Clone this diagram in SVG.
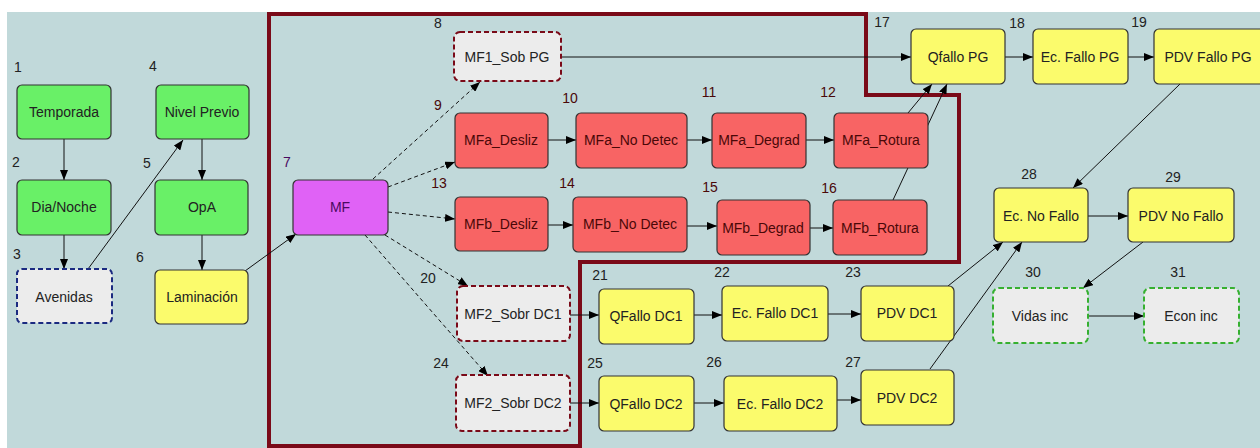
<svg xmlns="http://www.w3.org/2000/svg" width="1260" height="448" viewBox="0 0 1260 448">
<defs>
<marker id="ah" viewBox="0 0 10 8" refX="10" refY="4" markerWidth="10" markerHeight="8" markerUnits="userSpaceOnUse" orient="auto">
<path d="M0,0 L10,4 L0,8 Z" fill="#000"/>
</marker>
<style>
.n rect{stroke:#333;stroke-width:1.2}
.g rect{fill:#69f067}
.y rect{fill:#fbfb6c}
.r rect{fill:#f86464}
.m rect{fill:#e062f6}
.dg rect{fill:#ececec;stroke:#7a0a18;stroke-width:2;stroke-dasharray:5 3}
.db rect{fill:#ececec;stroke:#1a2a80;stroke-width:2;stroke-dasharray:5 3}
.dgr rect{fill:#ececec;stroke:#36b030;stroke-width:2;stroke-dasharray:5 3}
text{font-family:"Liberation Sans",Arial,sans-serif}
.n text{font-size:14px;fill:#222;text-anchor:middle}
.r text{fill:#4a0808}
.m text{fill:#4a0a60}
.num{font-size:13px;fill:#222}
.c line{stroke:#111;stroke-width:1;marker-end:url(#ah)}
.c .d{stroke-dasharray:4 3}
</style>
</defs>
<rect x="0" y="0" width="1260" height="448" fill="#ffffff"/>
<rect x="7" y="12" width="1253" height="436" fill="#c1d9da"/>
<path d="M269,14 L866,14 L866,95 L959,95 L959,262 L580,262 L580,446 L269,446 Z" fill="none" stroke="#7a0a18" stroke-width="4"/>

<g class="c">
<line x1="64" y1="139" x2="64" y2="180"/>
<line x1="64" y1="235" x2="64" y2="269"/>
<line x1="88" y1="269" x2="183" y2="140"/>
<line x1="202" y1="139" x2="202" y2="180"/>
<line x1="202" y1="235" x2="202" y2="270"/>
<line x1="245" y1="271" x2="296" y2="234"/>
<line class="d" x1="373" y1="179" x2="480" y2="82"/>
<line class="d" x1="388" y1="187" x2="455" y2="162"/>
<line class="d" x1="388" y1="212" x2="455" y2="219"/>
<line class="d" x1="385" y1="235" x2="468" y2="286"/>
<line class="d" x1="365" y1="235" x2="488" y2="376"/>
<line x1="561" y1="57" x2="911" y2="57"/>
<line x1="548" y1="140" x2="576" y2="140"/>
<line x1="687" y1="140" x2="712" y2="140"/>
<line x1="806" y1="140" x2="834" y2="140"/>
<line x1="908" y1="113" x2="932" y2="84"/>
<line x1="893" y1="200" x2="947" y2="84"/>
<line x1="548" y1="225" x2="573" y2="225"/>
<line x1="687" y1="226" x2="717" y2="226"/>
<line x1="810" y1="228" x2="833" y2="228"/>
<line x1="1005" y1="57" x2="1033" y2="57"/>
<line x1="1128" y1="57" x2="1154" y2="57"/>
<line x1="1180" y1="84" x2="1073" y2="188"/>
<line x1="1088" y1="216" x2="1128" y2="216"/>
<line x1="1143" y1="242" x2="1083" y2="288"/>
<line x1="1088" y1="316" x2="1144" y2="316"/>
<line x1="948" y1="286" x2="1003" y2="242"/>
<line x1="930" y1="369" x2="1022" y2="242"/>
<line x1="570" y1="315" x2="599" y2="315"/>
<line x1="694" y1="315" x2="722" y2="315"/>
<line x1="828" y1="314" x2="861" y2="314"/>
<line x1="570" y1="403" x2="599" y2="403"/>
<line x1="694" y1="403" x2="724" y2="403"/>
<line x1="837" y1="400" x2="861" y2="400"/>
</g>

<g id="n1" class="n g"><rect x="17" y="85" width="94" height="54" rx="5"/><text x="64" y="117">Temporada</text><text class="num" x="18" y="72" text-anchor="start">1</text></g>
<g id="n2" class="n g"><rect x="17" y="180" width="94" height="55" rx="5"/><text x="64" y="212">Dia/Noche</text><text class="num" x="16" y="167" text-anchor="start">2</text></g>
<g id="n3" class="n db"><rect x="17" y="269" width="95" height="54" rx="5"/><text x="64" y="302">Avenidas</text><text class="num" x="17" y="259" text-anchor="start">3</text></g>
<g id="n4" class="n g"><rect x="156" y="85" width="93" height="54" rx="5"/><text x="202" y="117">Nivel Previo</text><text class="num" x="153" y="71" text-anchor="start">4</text></g>
<g id="n5" class="n g"><rect x="155" y="180" width="93" height="55" rx="5"/><text x="202" y="212">OpA</text><text class="num" x="147" y="168" text-anchor="start">5</text></g>
<g id="n6" class="n y"><rect x="155" y="270" width="93" height="54" rx="5"/><text x="202" y="302">Laminación</text><text class="num" x="140" y="262" text-anchor="start">6</text></g>
<g id="n7" class="n m"><rect x="293" y="180" width="95" height="55" rx="5"/><text x="340" y="212">MF</text><text class="num" x="287" y="167" text-anchor="start">7</text></g>
<g id="n8" class="n dg"><rect x="454" y="32" width="107" height="49" rx="6"/><text x="507" y="62">MF1_Sob PG</text><text class="num" x="438" y="28" text-anchor="start">8</text></g>
<g id="n9" class="n r"><rect x="455" y="113" width="93" height="55" rx="5"/><text x="501" y="145">MFa_Desliz</text><text class="num" x="438" y="110" text-anchor="start">9</text></g>
<g id="n10" class="n r"><rect x="576" y="113" width="111" height="55" rx="5"/><text x="631" y="145">MFa_No Detec</text><text class="num" x="570" y="103" text-anchor="start">10</text></g>
<g id="n11" class="n r"><rect x="712" y="113" width="94" height="55" rx="5"/><text x="759" y="145">MFa_Degrad</text><text class="num" x="709" y="97" text-anchor="start">11</text></g>
<g id="n12" class="n r"><rect x="834" y="113" width="94" height="55" rx="5"/><text x="881" y="145">MFa_Rotura</text><text class="num" x="828" y="97" text-anchor="start">12</text></g>
<g id="n13" class="n r"><rect x="455" y="197" width="93" height="54" rx="5"/><text x="501" y="229">MFb_Desliz</text><text class="num" x="439" y="188" text-anchor="start">13</text></g>
<g id="n14" class="n r"><rect x="573" y="197" width="114" height="55" rx="5"/><text x="630" y="229">MFb_No Detec</text><text class="num" x="567" y="188" text-anchor="start">14</text></g>
<g id="n15" class="n r"><rect x="717" y="200" width="93" height="55" rx="5"/><text x="763" y="233">MFb_Degrad</text><text class="num" x="710" y="192" text-anchor="start">15</text></g>
<g id="n16" class="n r"><rect x="833" y="200" width="94" height="55" rx="5"/><text x="880" y="233">MFb_Rotura</text><text class="num" x="829" y="193" text-anchor="start">16</text></g>
<g id="n17" class="n y"><rect x="911" y="29" width="94" height="55" rx="5"/><text x="958" y="62">Qfallo PG</text><text class="num" x="882" y="27" text-anchor="start">17</text></g>
<g id="n18" class="n y"><rect x="1033" y="29" width="95" height="55" rx="5"/><text x="1080" y="62">Ec. Fallo PG</text><text class="num" x="1017" y="28" text-anchor="start">18</text></g>
<g id="n19" class="n y"><rect x="1154" y="29" width="112" height="55" rx="5"/><text x="1208" y="62">PDV Fallo PG</text><text class="num" x="1139" y="27" text-anchor="start">19</text></g>
<g id="n20" class="n dg"><rect x="457" y="286" width="113" height="55" rx="6"/><text x="513" y="319">MF2_Sobr DC1</text><text class="num" x="428" y="283" text-anchor="start">20</text></g>
<g id="n21" class="n y"><rect x="599" y="289" width="95" height="55" rx="5"/><text x="646" y="321">QFallo DC1</text><text class="num" x="600" y="280" text-anchor="start">21</text></g>
<g id="n22" class="n y"><rect x="722" y="286" width="106" height="55" rx="5"/><text x="775" y="318">Ec. Fallo DC1</text><text class="num" x="722" y="277" text-anchor="start">22</text></g>
<g id="n23" class="n y"><rect x="861" y="286" width="93" height="55" rx="5"/><text x="907" y="318">PDV DC1</text><text class="num" x="853" y="277" text-anchor="start">23</text></g>
<g id="n24" class="n dg"><rect x="456" y="375" width="114" height="56" rx="6"/><text x="513" y="408">MF2_Sobr DC2</text><text class="num" x="441" y="368" text-anchor="start">24</text></g>
<g id="n25" class="n y"><rect x="599" y="376" width="95" height="55" rx="5"/><text x="646" y="409">QFallo DC2</text><text class="num" x="595" y="368" text-anchor="start">25</text></g>
<g id="n26" class="n y"><rect x="724" y="376" width="113" height="55" rx="5"/><text x="780" y="409">Ec. Fallo DC2</text><text class="num" x="714" y="367" text-anchor="start">26</text></g>
<g id="n27" class="n y"><rect x="861" y="370" width="93" height="55" rx="5"/><text x="907" y="403">PDV DC2</text><text class="num" x="853" y="367" text-anchor="start">27</text></g>
<g id="n28" class="n y"><rect x="994" y="188" width="94" height="54" rx="5"/><text x="1041" y="221">Ec. No Fallo</text><text class="num" x="1029" y="179" text-anchor="start">28</text></g>
<g id="n29" class="n y"><rect x="1128" y="188" width="106" height="54" rx="5"/><text x="1181" y="221">PDV No Fallo</text><text class="num" x="1173" y="182" text-anchor="start">29</text></g>
<g id="n30" class="n dgr"><rect x="993" y="288" width="95" height="55" rx="6"/><text x="1040" y="321">Vidas inc</text><text class="num" x="1033" y="277" text-anchor="start">30</text></g>
<g id="n31" class="n dgr"><rect x="1144" y="288" width="95" height="55" rx="6"/><text x="1191" y="321">Econ inc</text><text class="num" x="1178" y="277" text-anchor="start">31</text></g>
</svg>
